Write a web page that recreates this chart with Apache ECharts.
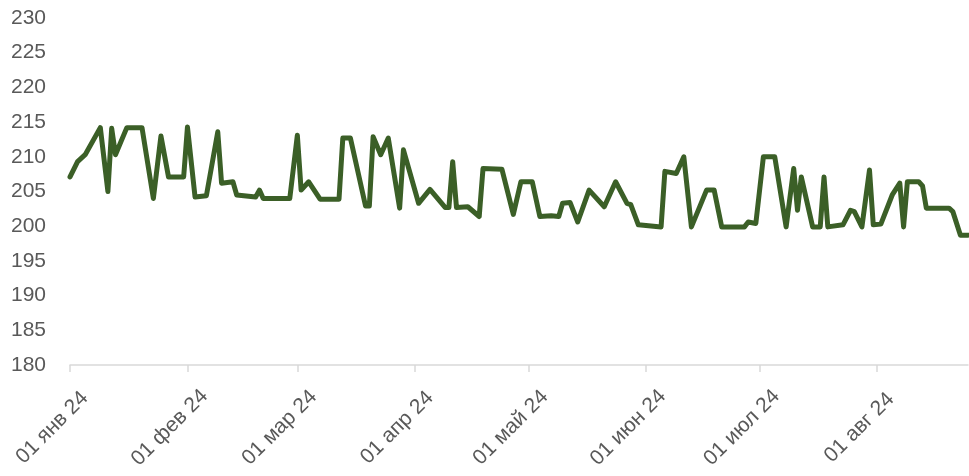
<!DOCTYPE html>
<html>
<head>
<meta charset="utf-8">
<script src="https://cdn.jsdelivr.net/npm/echarts@6/dist/echarts.min.js"></script>
<style>
  html, body { margin: 0; padding: 0; background: #fff; }
  #chart { width: 969px; height: 476px; }
</style>
</head>
<body>
<div id="chart"></div>
<script>
// Даты точек излома линии и значения
const POINT_DATES = [
  "2024-01-01", "2024-01-03", "2024-01-05", "2024-01-09", "2024-01-11", "2024-01-12", "2024-01-13",
  "2024-01-16", "2024-01-20", "2024-01-23", "2024-01-25", "2024-01-27", "2024-01-31",
  "2024-02-01", "2024-02-03", "2024-02-06", "2024-02-09", "2024-02-10", "2024-02-13", "2024-02-14",
  "2024-02-19", "2024-02-20", "2024-02-21", "2024-02-28",
  "2024-03-01", "2024-03-02", "2024-03-04", "2024-03-07", "2024-03-12", "2024-03-13", "2024-03-15",
  "2024-03-19", "2024-03-20", "2024-03-21", "2024-03-23", "2024-03-25", "2024-03-28", "2024-03-29",
  "2024-04-02", "2024-04-05", "2024-04-09", "2024-04-10", "2024-04-11", "2024-04-12", "2024-04-15",
  "2024-04-18", "2024-04-19", "2024-04-24", "2024-04-27", "2024-04-29",
  "2024-05-02", "2024-05-04", "2024-05-07", "2024-05-09", "2024-05-10", "2024-05-12", "2024-05-14",
  "2024-05-17", "2024-05-21", "2024-05-24", "2024-05-27", "2024-05-28", "2024-05-30",
  "2024-06-05", "2024-06-06", "2024-06-09", "2024-06-11", "2024-06-13", "2024-06-17", "2024-06-19",
  "2024-06-21", "2024-06-27", "2024-06-28", "2024-06-30",
  "2024-07-02", "2024-07-05", "2024-07-08", "2024-07-10", "2024-07-11", "2024-07-12", "2024-07-15",
  "2024-07-17", "2024-07-18", "2024-07-19", "2024-07-23", "2024-07-25", "2024-07-26", "2024-07-28",
  "2024-07-30", "2024-07-31",
  "2024-08-02", "2024-08-05", "2024-08-07", "2024-08-08", "2024-08-09", "2024-08-12", "2024-08-13",
  "2024-08-14", "2024-08-20", "2024-08-21", "2024-08-23", "2024-08-25"
];
const POINT_VALUES = [
  207.1, 209.3, 210.3, 214.2, 205.0, 214.1, 210.3,
  214.2, 214.2, 204.0, 213.0, 207.1, 207.1,
  214.3, 204.2, 204.4, 213.6, 206.2, 206.4, 204.5,
  204.2, 205.2, 204.0, 204.0,
  213.1, 205.2, 206.4, 203.9, 203.9, 212.7, 212.7,
  202.9, 202.9, 212.9, 210.3, 212.7, 202.6, 211.0,
  203.3, 205.3, 202.7, 202.7, 209.3, 202.7, 202.8,
  201.4, 208.3, 208.2, 201.7, 206.4,
  206.4, 201.4, 201.5, 201.4, 203.3, 203.4, 200.6,
  205.2, 202.8, 206.4, 203.3, 203.1, 200.2,
  199.9, 207.9, 207.6, 210.0, 199.9, 205.2, 205.2,
  199.9, 199.9, 200.6, 200.4,
  210.0, 210.0, 199.9, 208.3, 202.3, 207.1, 199.9,
  199.9, 207.1, 199.9, 200.2, 202.3, 202.1, 199.9,
  208.1, 200.2,
  200.3, 204.5, 206.2, 199.9, 206.4, 206.4, 205.8,
  202.6, 202.6, 202.1, 198.7, 198.7
];
const MONTHS = ["янв", "фев", "мар", "апр", "май", "июн", "июл", "авг", "сен", "окт", "ноя", "дек"];
const FIRST_DAY = "2024-01-01";
const LAST_DAY = "2024-08-25";

// все дни периода — категории оси X
const days = [];
for (let t = Date.parse(FIRST_DAY + "T00:00:00Z"); t <= Date.parse(LAST_DAY + "T00:00:00Z"); t += 86400000) {
  days.push(new Date(t).toISOString().slice(0, 10));
}
const byDate = Object.fromEntries(POINT_DATES.map((d, i) => [d, POINT_VALUES[i]]));
const seriesData = days.map((d) => (d in byDate ? byDate[d] : null));

const isMonthStart = (i) => days[i].slice(8, 10) === "01";
const fmtDay = (d) => `01 ${MONTHS[+d.slice(5, 7) - 1]} ${d.slice(2, 4)}`;

const chart = echarts.init(document.getElementById("chart"));
chart.setOption({
  animation: false,
  grid: { left: 70, right: 1, top: 18, bottom: 111, containLabel: false },
  xAxis: {
    type: "category",
    data: days,
    boundaryGap: false,
    axisLine: { lineStyle: { color: "#d9d9d9", width: 1.5 } },
    axisTick: { show: true, interval: (i) => isMonthStart(i), length: 7, lineStyle: { color: "#d9d9d9", width: 1.5 } },
    axisLabel: {
      interval: (i) => isMonthStart(i),
      rotate: 45,
      align: "center",
      margin: 45,
      formatter: (v) => "{a|" + fmtDay(v) + "}",
      rich: { a: { fontFamily: "Liberation Sans", fontSize: 21, color: "#595959", padding: [0, 50, 0, 0] } },
    },
    splitLine: { show: false },
  },
  yAxis: {
    type: "value",
    min: 180,
    max: 230,
    interval: 5,
    axisLine: { show: false },
    axisTick: { show: false },
    splitLine: { show: false },
    axisLabel: { color: "#595959", fontFamily: "Liberation Sans", fontSize: 21, margin: 24 },
  },
  series: [
    {
      type: "line",
      data: seriesData,
      connectNulls: true,
      showSymbol: false,
      symbol: "none",
      lineStyle: { color: "#3b5f27", width: 5, cap: "round", join: "round" },
    },
  ],
});
</script>
</body>
</html>
